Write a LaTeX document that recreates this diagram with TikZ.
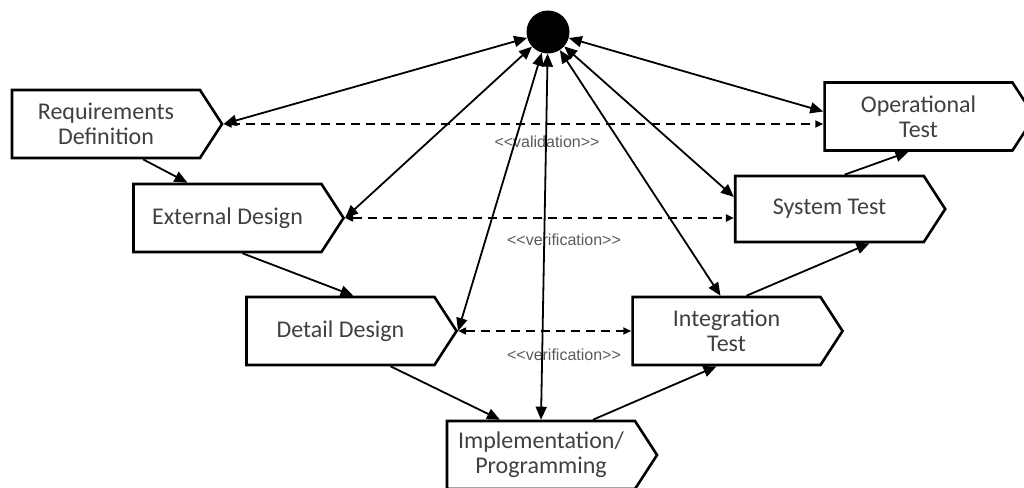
\documentclass[tikz,border=0pt]{standalone}
\usepackage{fontspec}
\setmainfont{Carlito}
\newfontfamily\labelfont{Liberation Sans}
\usetikzlibrary{shapes.symbols,arrows.meta,calc}
\definecolor{boxtext}{HTML}{404040}
\definecolor{labeltext}{HTML}{5A5A5A}
\begin{document}
\begin{tikzpicture}[x=1pt,y=-1pt,
  stage/.style={signal, signal to=east, signal pointer angle=114, draw=black, line width=2.6pt, fill=white,
    minimum width=210pt, minimum height=68pt, inner sep=2pt, align=center, text=boxtext,
    font=\fontsize{24}{25}\selectfont},
  link/.style={line width=1.8pt, -{Triangle[length=13pt,width=11pt]}},
  both/.style={line width=1.8pt, {Triangle[length=13pt,width=11pt]}-{Triangle[length=13pt,width=11pt]}},
  trace/.style={line width=1.8pt, dash pattern=on 9pt off 6pt, {Triangle[length=8pt,width=7pt]}-{Triangle[length=8pt,width=7pt]}},
  tag/.style={font=\labelfont\fontsize{16}{18}\selectfont, text=labeltext}
]
\useasboundingbox (0,0) rectangle (1024,487);
\clip (0,0) rectangle (1024,487);

\node[circle, fill=black, minimum size=43pt, inner sep=0pt] (hub) at (548,32) {};

\node[stage] (req)   at (106,124)   {Requirements\\Definition};
\node[stage] (ext)   at (227.5,218) {External Design};
\node[stage] (det)   at (340.5,331) {Detail Design};
\node[stage] (impl)  at (541,455)   {Implementation/\\Programming};
\node[stage] (integ) at (726.5,331) {Integration\\Test};
\node[stage, minimum height=66pt] (sys) at (829.5,209) {System Test};
\node[stage] (op)    at (918.5,116.5) {Operational\\Test};

% dashed traces
\draw[trace] (req.east) -- (req.east -| op.west);
\draw[trace] (ext.east) -- (ext.east -| sys.west);
\draw[trace] (det.east) -- (integ.west);

\node[tag] (lval) at (547,142) {<{}<validation>{}>};
\node[tag] (lver1) at (564,240) {<{}<verification>{}>};
\node[tag] (lver2) at (564,355) {<{}<verification>{}>};

% hub links
\draw[both] (req.east) -- (hub);
\draw[both] (ext.east) -- (hub);
\draw[both] (det.east) -- (hub);
\draw[both] (impl.north) -- (hub);
\draw[both] ([xshift=-6pt]integ.north) -- (hub);
\draw[both] ([yshift=12pt]sys.west) -- (hub);
\draw[both] ([yshift=5pt]op.west) -- (hub);

% sequence
\draw[link] ([xshift=37pt]req.south) -- ([xshift=-40pt]ext.north);
\draw[link] ([xshift=15pt]ext.south) -- ([xshift=13pt]det.north);
\draw[link] ([xshift=50pt]det.south) -- ([xshift=-41pt]impl.north);
\draw[link] ([xshift=52pt]impl.north) -- ([xshift=-10pt]integ.south);
\draw[link] ([xshift=20pt]integ.north) -- ([xshift=40pt]sys.south);
\draw[link] ([xshift=15pt]sys.north) -- ([xshift=-10pt]op.south);
\end{tikzpicture}
\end{document}
